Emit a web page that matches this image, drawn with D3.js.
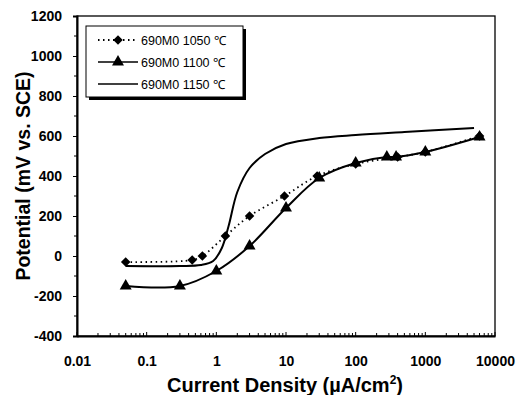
<!DOCTYPE html>
<html>
<head>
<meta charset="utf-8">
<script src="https://cdn.jsdelivr.net/npm/d3@7"></script>
<style>
  body { margin: 0; background: #fff; }
  svg { display: block; font-family: "Liberation Sans", Arial, sans-serif; }
</style>
</head>
<body>
<svg id="chart" width="518" height="395"></svg>
<script>
// Data (current density in uA/cm2, potential in mV)
const seriesNames = ["690M0 1050 \u2103", "690M0 1100 \u2103", "690M0 1150 \u2103"];
const density1050 = [0.05, 0.45, 0.63, 1.35, 3, 9.5, 28, 100, 400, 1000, 6000];
const potential1050 = [-30, -20, 0, 100, 200, 300, 400, 460, 495, 520, 600];
const density1100 = [0.05, 0.3, 1, 3, 10, 30, 100, 280, 380, 1000, 6000];
const potential1100 = [-150, -150, -75, 50, 240, 390, 465, 495, 495, 520, 595];
const density1150 = [0.05, 0.3, 0.6, 0.9, 1.2, 1.5, 2, 3, 5, 10, 30, 100, 500, 5000];
const potential1150 = [-50, -50, -45, -25, 40, 150, 320, 440, 510, 560, 590, 605, 620, 640];
const xTicks = [0.01, 0.1, 1, 10, 100, 1000, 10000];
const yTicks = [-400, -200, 0, 200, 400, 600, 800, 1000, 1200];

const svg = d3.select("#chart");
const plotLeft = 77, plotRight = 495, plotTop = 16, plotBottom = 336;

const x = d3.scaleLog().domain([0.01, 10000]).range([plotLeft, plotRight]);
const y = d3.scaleLinear().domain([-400, 1200]).range([plotBottom, plotTop]);

const zip = (xs, ys) => xs.map((d, i) => ({ x: d, y: ys[i] }));
const data1050 = zip(density1050, potential1050);
const data1100 = zip(density1100, potential1100);
const data1150 = zip(density1150, potential1150);

// Frame
svg.append("rect")
    .attr("x", plotLeft).attr("y", plotTop)
    .attr("width", plotRight - plotLeft).attr("height", plotBottom - plotTop)
    .attr("fill", "none").attr("stroke", "#000").attr("stroke-width", 1.3);

// Y axis
const yAxis = d3.axisLeft(y).tickValues(yTicks).tickFormat(d => String(d)).tickSize(4).tickPadding(11);
const gy = svg.append("g").attr("transform", `translate(${plotLeft},0)`).call(yAxis);
gy.select(".domain").attr("stroke-width", 2);
gy.selectAll("text").style("font-size", "14px").style("font-weight", "bold").attr("fill", "#000");
// minor y ticks
svg.append("g").selectAll("line")
    .data(d3.range(-300, 1200, 200))
    .join("line")
    .attr("x1", plotLeft - 3).attr("x2", plotLeft)
    .attr("y1", d => y(d)).attr("y2", d => y(d))
    .attr("stroke", "#000");

// X axis
const xAxis = d3.axisBottom(x).tickValues(xTicks).tickFormat(d => String(d)).tickSize(0).tickPadding(20);
const gx = svg.append("g").attr("transform", `translate(0,${plotBottom})`).call(xAxis);
gx.select(".domain").attr("stroke-width", 2);
gx.selectAll("text").style("font-size", "14px").style("font-weight", "bold").attr("fill", "#000");
// log ticks pointing inwards
const minorX = [];
xTicks.slice(0, -1).forEach(d => { for (let k = 1; k < 10; k++) minorX.push(d * k); });
minorX.push(10000);
svg.append("g").selectAll("line")
    .data(minorX)
    .join("line")
    .attr("x1", d => x(d)).attr("x2", d => x(d))
    .attr("y1", plotBottom).attr("y2", (d, i) => i % 9 === 0 ? plotBottom - 4 : plotBottom - 3)
    .attr("stroke", "#000");

// Axis titles
const xTitle = svg.append("text")
    .attr("x", 285).attr("y", 392)
    .attr("text-anchor", "middle")
    .style("font-size", "20px").style("font-weight", "bold");
xTitle.append("tspan").text("Current Density (\u00b5A/cm");
xTitle.append("tspan").attr("dy", -8).style("font-size", "12px").text("2");
xTitle.append("tspan").attr("dy", 8).text(")");

svg.append("text")
    .attr("transform", "translate(30,176) rotate(-90)")
    .attr("text-anchor", "middle")
    .style("font-size", "19.5px").style("font-weight", "bold")
    .text("Potential (mV vs. SCE)");

// Lines
const curve = d3.curveCatmullRom.alpha(0.5);
const line = d3.line().x(d => x(d.x)).y(d => y(d.y)).curve(curve);

svg.append("path").datum(data1150)
    .attr("fill", "none").attr("stroke", "#000").attr("stroke-width", 2)
    .attr("d", line);
svg.append("path").datum(data1100)
    .attr("fill", "none").attr("stroke", "#000").attr("stroke-width", 2)
    .attr("d", line);
svg.append("path").datum(data1050)
    .attr("fill", "none").attr("stroke", "#000").attr("stroke-width", 1.8)
    .attr("stroke-dasharray", "1.5,3.5")
    .attr("d", line);

const diamond = d3.symbol().type(d3.symbolDiamond2).size(58);
const triangle = d3.symbol().type(d3.symbolTriangle).size(62);

svg.append("g").selectAll("path")
    .data(data1100)
    .join("path")
    .attr("transform", d => `translate(${x(d.x)},${y(d.y)})`)
    .attr("d", triangle);
svg.append("g").selectAll("path")
    .data(data1050)
    .join("path")
    .attr("transform", d => `translate(${x(d.x)},${y(d.y)})`)
    .attr("d", diamond);

// Legend with drop shadow
const legend = svg.append("g");
legend.append("rect")
    .attr("x", 89).attr("y", 29).attr("width", 157).attr("height", 71)
    .attr("fill", "#000");
legend.append("rect")
    .attr("x", 86).attr("y", 26).attr("width", 157).attr("height", 71)
    .attr("fill", "#fff").attr("stroke", "#000").attr("stroke-width", 1);

const rows = [40, 62, 84];
rows.forEach((ry, i) => {
    const l = legend.append("line")
        .attr("x1", 98).attr("x2", 138).attr("y1", ry).attr("y2", ry)
        .attr("stroke", "#000").attr("stroke-width", i === 0 ? 1.8 : 1.5);
    if (i === 0) l.attr("stroke-dasharray", "1.5,3.5");
    if (i === 0) legend.append("path").attr("transform", `translate(118,${ry})`).attr("d", diamond);
    if (i === 1) legend.append("path").attr("transform", `translate(118,${ry})`).attr("d", triangle);
    legend.append("text")
        .attr("x", 141).attr("y", ry + 4.5)
        .style("font-size", "12.5px")
        .text(seriesNames[i]);
});
</script>
</body>
</html>
